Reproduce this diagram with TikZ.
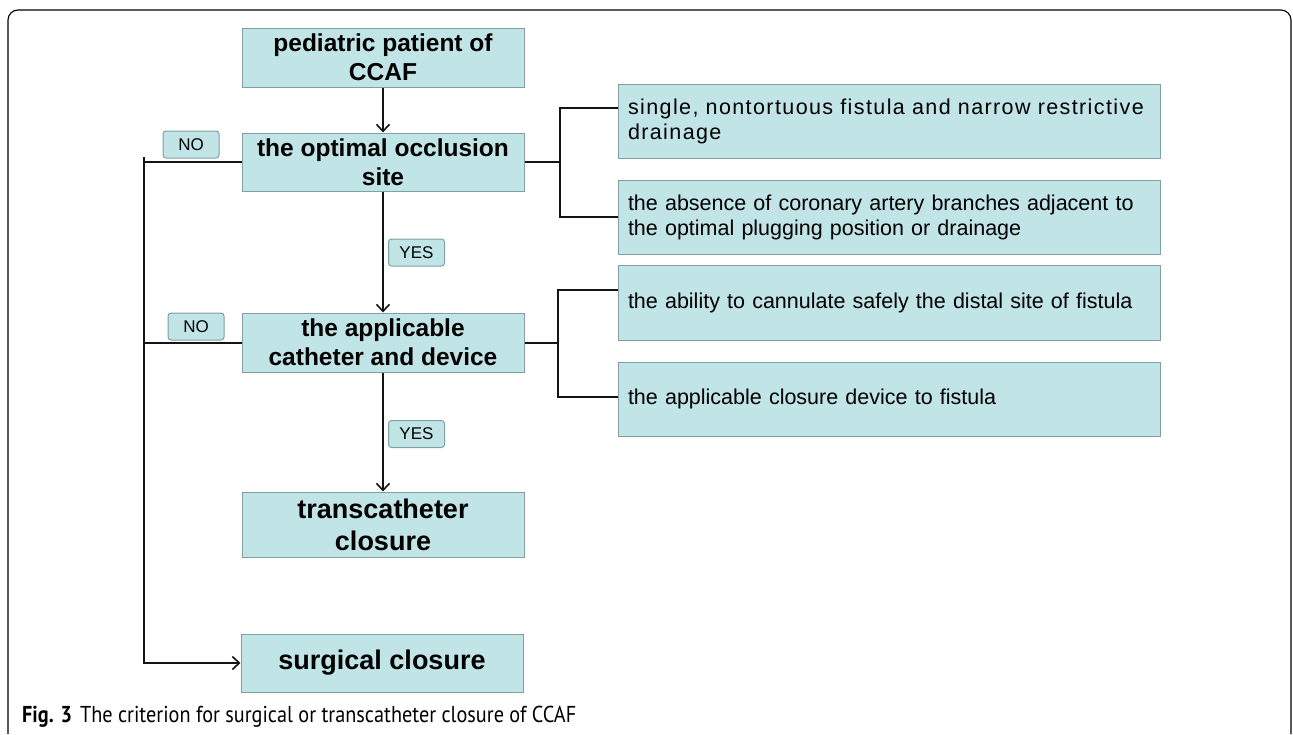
\documentclass[tikz,border=0pt]{standalone}
\usepackage{fontspec}
\setmainfont{Liberation Sans}
\newfontfamily\capfont[FakeStretch=0.88]{PT Sans}
\usetikzlibrary{arrows.meta,calc}

\definecolor{boxfill}{RGB}{193,228,231}
\definecolor{boxline}{RGB}{128,160,163}
\definecolor{linkcol}{RGB}{20,20,20}

\begin{document}
\begin{tikzpicture}[>={Straight Barb[length=7pt,width=13pt,line width=1.6pt]}, x=1pt, y=-1pt,
  stage/.style={draw=boxline, line width=1pt, fill=boxfill, minimum width=282pt,
    align=center, inner sep=0pt, font=\fontsize{24.5}{29}\selectfont\bfseries},
  crit/.style={draw=boxline, line width=1pt, fill=boxfill, text width=522pt,
    inner xsep=10pt, inner ysep=0pt, minimum height=74pt, align=left,
    font=\fontsize{21.5}{25}\selectfont},
  answer/.style={draw=boxline, line width=1pt, fill=boxfill, rounded corners=3pt,
    minimum width=56pt, minimum height=27pt, inner sep=0pt,
    font=\fontsize{17}{20}\selectfont},
  link/.style={draw=linkcol, line width=2pt}]
  \useasboundingbox (0,0) rectangle (1293,734);
  % Outer frame, open at the bottom edge.
  \draw[line width=1.1pt, rounded corners=10pt] (8,734) -- (8,10) -- (1291,10) -- (1291,734);

  % Main column of decisions.
  \node[stage, minimum height=59pt] (patient) at (383,57.5) {pediatric patient of\\CCAF};
  \node[stage, minimum height=58pt] (occlusion) at (383,162) {the optimal occlusion\\site};
  \node[stage, minimum height=59pt] (catheter) at (383,342.5) {the applicable\\catheter and device};
  \node[stage, minimum height=65pt, font=\fontsize{27}{32}\selectfont\bfseries]
    (transcath) at (383,524.5) {transcatheter\\closure};
  \node[stage, minimum height=58pt, font=\fontsize{27}{32}\selectfont\bfseries]
    (surgical) at (382,663) {surgical closure};

  \draw[link,->] (patient) -- (occlusion);
  \draw[link,->] (occlusion) -- (catheter);
  \draw[link,->] (catheter) -- (transcath);

  % YES / NO tags.
  \node[answer] (yesA) at (416.5,252.5) {YES};
  \node[answer] (yesB) at (416.5,434) {YES};
  \node[answer] (noA) at (191,144.5) {NO};
  \node[answer] (noB) at (196,326.5) {NO};

  % The NO branch down the left side.
  \coordinate (bus) at (144,157);
  \draw[link] (occlusion.west) -| (bus);
  \draw[link] (catheter.west) -- (catheter.west -| bus);
  \draw[link,->] (bus) |- (surgical.west);

  % Criteria on the right.
  \node[crit] (single) at (889,121)
    {\addfontfeature{LetterSpace=6.5}single, nontortuous fistula and narrow restrictive\\drainage};
  \node[crit] (absence) at (889,217)
    {the absence of coronary artery branches adjacent to\\the optimal plugging position or drainage};
  \node[crit, minimum height=75pt] (cannula) at (889,302.5)
    {the ability to cannulate safely the distal site of fistula};
  \node[crit] (device) at (889,399)
    {the applicable closure device to fistula};

  \draw[link] (occlusion.east) -- ([xshift=35pt]occlusion.east);
  \draw[link] ([yshift=13pt]single.west) -| ([xshift=35pt]occlusion.east) |- (absence.west);
  \draw[link] (catheter.east) -- ([xshift=33pt]catheter.east);
  \draw[link] ([yshift=13pt]cannula.west) -| ([xshift=33pt]catheter.east) |- ([yshift=2pt]device.west);

  % Caption.
  \node[anchor=base west, inner sep=0pt, font=\capfont\fontsize{23}{27}\selectfont]
    (caption) at (22,722) {\textbf{Fig. 3}\hspace{8pt}The criterion for surgical or transcatheter closure of CCAF};
\end{tikzpicture}
\end{document}
